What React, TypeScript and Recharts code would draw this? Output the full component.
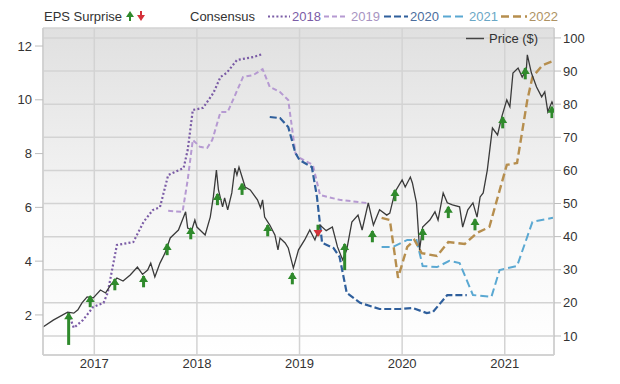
import {
  ComposedChart,
  Line,
  Scatter,
  ErrorBar,
  XAxis,
  YAxis,
  CartesianGrid,
} from "recharts";

// ---- axes ----
const yearTicks = [2017, 2018, 2019, 2020, 2021];
const epsTicks = [2, 4, 6, 8, 10, 12];
const priceTicks = [10, 20, 30, 40, 50, 60, 70, 80, 90, 100];
const timeDomain = [2016.5, 2021.48];
const epsDomain = [0.51, 12.67];
const priceDomain = [4.26, 103];

// ---- price ($), right axis ----
const priceDates = [
  2016.5, 2016.6, 2016.74, 2016.8, 2016.84, 2016.88, 2016.93, 2016.99, 2017.06, 2017.11,
  2017.16, 2017.22, 2017.28, 2017.35, 2017.42, 2017.47, 2017.52, 2017.55, 2017.59, 2017.64,
  2017.69, 2017.74, 2017.79, 2017.82, 2017.87, 2017.89, 2017.91, 2017.95, 2017.98, 2018.0,
  2018.05, 2018.08, 2018.13, 2018.16, 2018.19, 2018.21, 2018.25, 2018.27, 2018.3, 2018.34,
  2018.37, 2018.39, 2018.41, 2018.44, 2018.47, 2018.52, 2018.59, 2018.62, 2018.64, 2018.66,
  2018.71, 2018.76, 2018.79, 2018.81, 2018.86, 2018.89, 2018.94, 2018.99, 2019.05, 2019.1,
  2019.15, 2019.2, 2019.26, 2019.32, 2019.37, 2019.42, 2019.46, 2019.51, 2019.57, 2019.61,
  2019.67, 2019.72, 2019.78, 2019.85, 2019.88, 2019.93, 2020.0, 2020.03, 2020.08, 2020.1,
  2020.14, 2020.17, 2020.2, 2020.27, 2020.32, 2020.35, 2020.4, 2020.44, 2020.49, 2020.56,
  2020.59, 2020.64, 2020.69, 2020.73, 2020.76, 2020.79, 2020.83, 2020.88, 2020.93, 2020.97,
  2021.02, 2021.05, 2021.08, 2021.13, 2021.17, 2021.21, 2021.22, 2021.26, 2021.31, 2021.36,
  2021.39, 2021.42, 2021.46, 2021.48,
];
const priceValues = [
  12.7, 14.8, 17.2, 16.9, 17.9, 20.0, 21.8, 21.5, 23.9, 23.0,
  25.4, 27.5, 26.6, 28.4, 30.8, 28.6, 29.9, 32.0, 27.8, 32.0,
  35.1, 39.6, 41.1, 42.0, 45.9, 47.5, 42.6, 42.0, 45.0, 42.9,
  41.4, 40.5, 45.9, 52.0, 60.1, 54.1, 49.0, 51.7, 48.1, 53.2,
  60.7, 58.6, 61.0, 58.0, 55.0, 54.1, 51.1, 48.7, 51.1, 45.9,
  43.5, 40.5, 36.0, 39.6, 38.1, 36.6, 30.5, 36.0, 39.0, 42.0,
  39.0, 43.5, 41.8, 42.9, 36.9, 33.0, 36.0, 44.4, 46.5, 42.0,
  50.2, 43.5, 48.1, 46.5, 47.1, 53.5, 57.1, 55.0, 58.0, 56.2,
  50.2, 36.0, 42.9, 45.0, 47.5, 45.0, 53.2, 50.2, 49.6, 49.0,
  42.9, 48.1, 50.2, 45.9, 52.0, 53.2, 60.1, 72.8, 70.7, 76.1,
  81.3, 79.2, 89.4, 90.9, 88.2, 90.3, 94.9, 89.4, 85.2, 82.2,
  83.7, 77.7, 80.7, 79.2,
];

// ---- consensus EPS, left axis ----
const c2018Dates = [
  2016.75, 2016.8, 2016.89, 2016.99, 2017.09, 2017.13, 2017.22, 2017.38, 2017.48, 2017.57,
  2017.64, 2017.72, 2017.87, 2017.91, 2017.96, 2018.06, 2018.16, 2018.23, 2018.29, 2018.39,
  2018.55, 2018.64,
];
const c2018Values = [
  2.04, 1.52, 1.81, 2.3, 2.45, 2.82, 4.6, 4.71, 5.46, 5.9,
  6.01, 7.2, 7.46, 8.13, 9.62, 9.7, 10.25, 10.85, 11.0, 11.48,
  11.59, 11.7,
];
const c2019Dates = [
  2017.72, 2017.86, 2017.91, 2017.96, 2018.03, 2018.1, 2018.15, 2018.23, 2018.3, 2018.45,
  2018.55, 2018.64, 2018.71, 2018.81, 2018.89, 2018.96, 2019.0, 2019.13, 2019.2, 2019.39,
  2019.66,
];
const c2019Values = [
  5.87, 5.83, 7.02, 8.51, 8.25, 8.21, 8.51, 9.55, 9.55, 10.85,
  10.92, 11.14, 10.48, 10.29, 9.99, 8.02, 7.84, 7.58, 6.46, 6.28,
  6.16,
];
const c2020Dates = [
  2018.71, 2018.81, 2018.89, 2018.96, 2019.0, 2019.12, 2019.17, 2019.22, 2019.33, 2019.39,
  2019.46, 2019.59, 2019.78, 2019.98, 2020.1, 2020.24, 2020.3, 2020.44, 2020.63,
];
const c2020Values = [
  9.36, 9.32, 8.99, 8.02, 7.76, 7.5, 6.39, 4.68, 4.49, 4.16,
  2.82, 2.45, 2.22, 2.22, 2.26, 2.07, 2.11, 2.74, 2.74,
];
const c2021Dates = [
  2019.8, 2019.91, 2020.05, 2020.14, 2020.2, 2020.34, 2020.46, 2020.56, 2020.69, 2020.87,
  2020.95, 2021.12, 2021.27, 2021.47,
];
const c2021Values = [
  4.53, 4.53, 4.79, 4.79, 3.82, 3.78, 4.01, 3.93, 2.74, 2.67,
  3.67, 3.82, 5.46, 5.61,
];
const c2022Dates = [
  2019.8, 2019.88, 2019.96, 2020.05, 2020.12, 2020.19, 2020.34, 2020.45, 2020.61, 2020.73,
  2020.85, 2021.02, 2021.12, 2021.22, 2021.27, 2021.37, 2021.47,
];
const c2022Values = [
  5.61, 5.53, 3.38, 4.53, 4.79, 4.3, 4.19, 4.71, 4.64, 5.05,
  5.27, 7.58, 7.65, 9.99, 10.85, 11.29, 11.44,
];

// ---- EPS surprise arrows (drawn at price level) ----
const surpriseDates = [
  2016.75, 2016.96, 2017.2, 2017.48, 2017.71, 2017.94, 2018.2, 2018.44, 2018.69, 2018.93,
  2019.18, 2019.44, 2019.71, 2019.93, 2020.2, 2020.45, 2020.71, 2020.98, 2021.2, 2021.46,
];
const surpriseTips = [
  16.9, 22.1, 27.2, 28.1, 37.8, 42.6, 52.9, 56.0, 43.5, 29.0,
  40.2, 37.8, 41.7, 54.1, 42.3, 49.0, 45.3, 76.1, 90.9, 79.2,
];
const surpriseTails = [
  7.3, 18.7, 23.8, 24.7, 34.4, 39.2, 49.5, 52.6, 40.1, 25.6,
  43.6, 29.9, 38.3, 50.7, 38.9, 45.6, 41.9, 72.7, 87.5, 75.8,
];

const zip = (ts: number[], vs: number[]) => ts.map((t, i) => ({ t, v: vs[i] }));

const priceData = zip(priceDates, priceValues);
const surpriseData = surpriseDates.map((t, i) => {
  const tip = surpriseTips[i];
  const tail = surpriseTails[i];
  const beat = tail < tip;
  return { t, v: tip, beat, err: beat ? [tip - tail, 0] : [0, tail - tip] };
});

const GREEN = "#2f8a2c";
const RED = "#d4323a";
const TEXT = "#333";
const FONT = "'Liberation Sans', Arial, sans-serif";

const consensus = [
  { key: "2018", data: zip(c2018Dates, c2018Values), color: "#7b5ca6", dash: "2 2.2", width: 2.2, text: "#7b5ca6" },
  { key: "2019", data: zip(c2019Dates, c2019Values), color: "#b69ad2", dash: "5 3", width: 2, text: "#a894c2" },
  { key: "2020", data: zip(c2020Dates, c2020Values), color: "#2f5f9c", dash: "7 3", width: 2.2, text: "#4b6d9d" },
  { key: "2021", data: zip(c2021Dates, c2021Values), color: "#5aa8d2", dash: "8 4", width: 2, text: "#6aa7c6" },
  { key: "2022", data: zip(c2022Dates, c2022Values), color: "#b68e4e", dash: "8 4", width: 2.4, text: "#ae9263" },
];

function SurpriseArrow(props: any) {
  const { cx, cy, payload } = props;
  if (cx == null || cy == null) return null;
  if (payload.beat) {
    return <polygon points={`${cx},${cy - 1} ${cx - 4.5},${cy + 6} ${cx + 4.5},${cy + 6}`} fill={GREEN} />;
  }
  return <polygon points={`${cx},${cy + 1} ${cx - 4.5},${cy - 6} ${cx + 4.5},${cy - 6}`} fill={RED} />;
}

function LegendOverlay() {
  const legendItems = [
    { x1: 268, x2: 290, tx: 292 },
    { x1: 324, x2: 348, tx: 351 },
    { x1: 384, x2: 408, tx: 410 },
    { x1: 443, x2: 467, tx: 469 },
    { x1: 501, x2: 527, tx: 529 },
  ];
  return (
    <svg
      width={620}
      height={50}
      style={{ position: "absolute", left: 0, top: 0, pointerEvents: "none" }}
      fontFamily={FONT}
      fontSize={13}
    >
      <text x={44} y={21} fill={TEXT}>EPS Surprise</text>
      <g>
        <line x1={130} y1={21} x2={130} y2={16} stroke={GREEN} strokeWidth={2} />
        <polygon points="130,11 126,17 134,17" fill={GREEN} />
        <line x1={141} y1={11} x2={141} y2={16} stroke={RED} strokeWidth={2} />
        <polygon points="141,21 137,15 145,15" fill={RED} />
      </g>
      <text x={190} y={21} fill={TEXT}>Consensus</text>
      {consensus.map((c, i) => (
        <g key={c.key}>
          <line
            x1={legendItems[i].x1}
            x2={legendItems[i].x2}
            y1={16.5}
            y2={16.5}
            stroke={c.color}
            strokeWidth={c.width}
            strokeDasharray={c.dash}
          />
          <text x={legendItems[i].tx} y={21} fill={c.text}>{c.key}</text>
        </g>
      ))}
      <line x1={466} x2={484} y1={38.5} y2={38.5} stroke="#444" strokeWidth={1.5} />
      <text x={489} y={43} fill={TEXT}>Price ($)</text>
    </svg>
  );
}

export default function App() {
  return (
    <div style={{ position: "fixed", left: 0, top: 0, width: 620, height: 384, background: "#fff" }}>
      <ComposedChart
        width={620}
        height={384}
        margin={{ top: 28, right: 0, bottom: 0, left: 0 }}
        style={{ fontFamily: FONT }}
      >
        <defs>
          <linearGradient id="plotBg" x1="0" y1="0" x2="0" y2="1">
            <stop offset="0%" stopColor="#e0e0e0" />
            <stop offset="55%" stopColor="#f5f5f5" />
            <stop offset="100%" stopColor="#ffffff" />
          </linearGradient>
        </defs>
        <CartesianGrid
          yAxisId="right"
          stroke="#d3d3d3"
          strokeWidth={1.5}
          fill="url(#plotBg)"
          fillOpacity={1}
        />
        <XAxis
          dataKey="t"
          type="number"
          domain={timeDomain}
          ticks={yearTicks}
          allowDataOverflow
          height={29}
          tickLine={false}
          tickSize={1}
          tickMargin={3}
          axisLine={{ stroke: "#cfcfcf", strokeWidth: 1.5 }}
          tick={{ fill: TEXT, fontSize: 13 }}
        />
        <XAxis
          xAxisId="top"
          dataKey="t"
          type="number"
          orientation="top"
          domain={timeDomain}
          allowDataOverflow
          height={0}
          tick={false}
          tickLine={false}
          axisLine={{ stroke: "#cfcfcf", strokeWidth: 1.5 }}
        />
        <YAxis
          yAxisId="left"
          type="number"
          domain={epsDomain}
          ticks={epsTicks}
          allowDataOverflow
          width={43}
          tickSize={8}
          tickMargin={3}
          tickLine={{ stroke: "#bdbdbd" }}
          axisLine={{ stroke: "#cfcfcf", strokeWidth: 1.5 }}
          tick={{ fill: TEXT, fontSize: 13 }}
        />
        <YAxis
          yAxisId="right"
          orientation="right"
          type="number"
          domain={priceDomain}
          ticks={priceTicks}
          allowDataOverflow
          width={66}
          tickSize={7}
          tickMargin={2}
          tickLine={{ stroke: "#bdbdbd" }}
          axisLine={{ stroke: "#cfcfcf", strokeWidth: 1.5 }}
          tick={{ fill: TEXT, fontSize: 13 }}
        />

        {consensus.map((c) => (
          <Line
            key={c.key}
            yAxisId="left"
            data={c.data}
            dataKey="v"
            type="linear"
            stroke={c.color}
            strokeWidth={c.width}
            strokeDasharray={c.dash}
            dot={false}
            activeDot={false}
            isAnimationActive={false}
          />
        ))}

        <Line
          yAxisId="right"
          data={priceData}
          dataKey="v"
          type="linear"
          stroke="#3a3a3a"
          strokeWidth={1.3}
          dot={false}
          activeDot={false}
          isAnimationActive={false}
        />

        <Scatter
          yAxisId="right"
          data={surpriseData}
          dataKey="v"
          shape={<SurpriseArrow />}
          isAnimationActive={false}
        >
          <ErrorBar
            dataKey="err"
            direction="y"
            width={0}
            stroke={GREEN}
            strokeWidth={3}
            isAnimationActive={false}
          />
        </Scatter>
      </ComposedChart>
      <LegendOverlay />
    </div>
  );
}
